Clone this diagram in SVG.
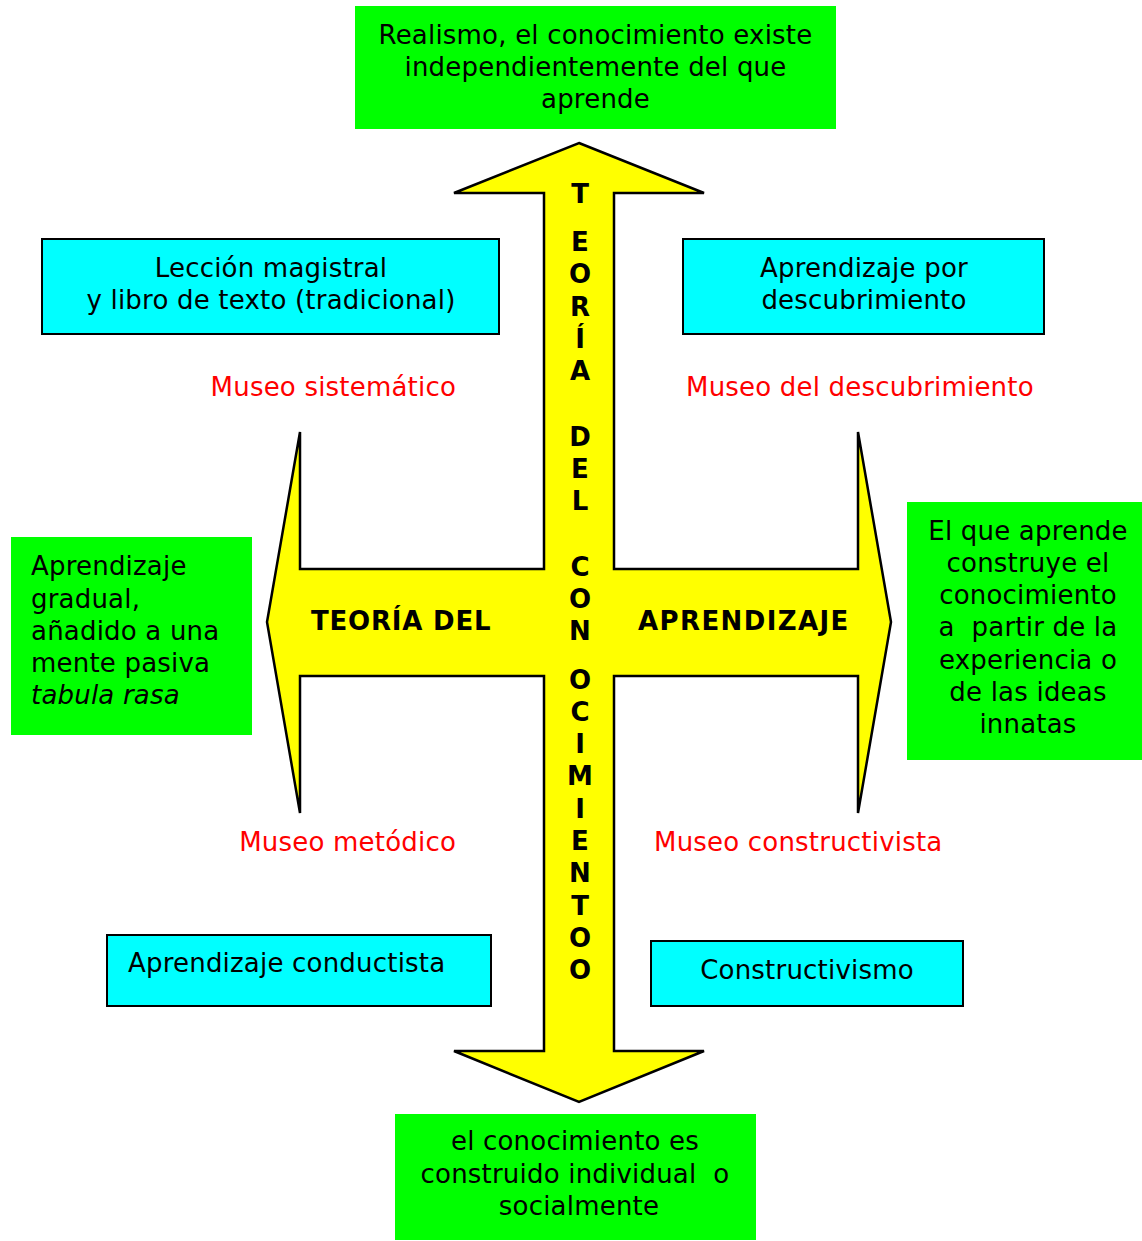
<svg xmlns="http://www.w3.org/2000/svg" width="1142" height="1241" viewBox="0 0 1142 1241">
<style>
.t{font-family:"DejaVu Sans","Verdana",sans-serif;font-size:26px;letter-spacing:0.2px;fill:#000;white-space:pre}
.c{text-anchor:middle}
.red{fill:#FF0000}
.b{font-family:"DejaVu Sans","Verdana",sans-serif;font-size:26px;font-weight:bold;fill:#000}
.v{text-anchor:middle}
.green{fill:#00FF00}
.cyan{fill:#00FFFF;stroke:#000;stroke-width:2}
</style>
<rect width="1142" height="1241" fill="#fff"/>

<g id="cross">
<polygon points="579,143 704,193 614,193 614,569 858,569 858,432 891,622 858,813 858,676 614,676 614,1051 704,1051 579,1102 454,1051 544,1051 544,676 300,676 300,813 267,622 300,432 300,569 544,569 544,193 454,193" fill="#FFFF00" stroke="#000" stroke-width="2.5" stroke-linejoin="miter"/>
<g class="b v">
<text x="580" y="203">T</text>
<text x="580" y="251">E</text>
<text x="580" y="283">O</text>
<text x="580" y="316">R</text>
<text x="580" y="348">Í</text>
<text x="580" y="380">A</text>
<text x="580" y="446">D</text>
<text x="580" y="478">E</text>
<text x="580" y="510">L</text>
<text x="580" y="576">C</text>
<text x="580" y="608">O</text>
<text x="580" y="640">N</text>
<text x="580" y="689">O</text>
<text x="580" y="721">C</text>
<text x="580" y="753">I</text>
<text x="580" y="785">M</text>
<text x="580" y="818">I</text>
<text x="580" y="850">E</text>
<text x="580" y="882">N</text>
<text x="580" y="915">T</text>
<text x="580" y="947">O</text>
<text x="580" y="979">O</text>
</g>
<text class="b" x="311" y="630" letter-spacing="0.8">TEORÍA DEL</text>
<text class="b" x="638" y="630" letter-spacing="1.4">APRENDIZAJE</text>
</g>

<g id="top">
<rect class="green" x="355" y="6" width="481" height="123"/>
<text class="t c" x="595.5" y="44">Realismo, el conocimiento existe</text>
<text class="t c" x="595.5" y="76">independientemente del que</text>
<text class="t c" x="595.5" y="108">aprende</text>
</g>

<g id="leccion">
<rect class="cyan" x="42" y="239" width="457" height="95"/>
<text class="t c" x="271" y="277">Lección magistral</text>
<text class="t c" x="271" y="309">y libro de texto (tradicional)</text>
</g>

<g id="descubrimiento">
<rect class="cyan" x="683" y="239" width="361" height="95"/>
<text class="t c" x="864" y="277">Aprendizaje por</text>
<text class="t c" x="864" y="309">descubrimiento</text>
</g>

<g id="museo-sistematico">
<text class="t red" x="456" y="396" text-anchor="end">Museo sistemático</text>
</g>
<g id="museo-descubrimiento">
<text class="t red" x="686" y="396">Museo del descubrimiento</text>
</g>

<g id="gradual">
<rect class="green" x="11" y="537" width="241" height="198"/>
<text class="t" x="31" y="575">Aprendizaje</text>
<text class="t" x="31" y="608">gradual,</text>
<text class="t" x="31" y="640">añadido a una</text>
<text class="t" x="31" y="672">mente pasiva</text>
<text class="t" x="31" y="704" font-style="italic">tabula rasa</text>
</g>

<g id="construye">
<rect class="green" x="907" y="502" width="235" height="258"/>
<text class="t c" x="1028" y="540">El que aprende</text>
<text class="t c" x="1028" y="572">construye el</text>
<text class="t c" x="1028" y="604">conocimiento</text>
<text class="t c" x="1028" y="636" xml:space="preserve">a  partir de la</text>
<text class="t c" x="1028" y="669">experiencia o</text>
<text class="t c" x="1028" y="701">de las ideas</text>
<text class="t c" x="1028" y="733">innatas</text>
</g>

<g id="museo-metodico">
<text class="t red" x="456" y="851" text-anchor="end">Museo metódico</text>
</g>
<g id="museo-constructivista">
<text class="t red" x="654" y="851">Museo constructivista</text>
</g>

<g id="conductista">
<rect class="cyan" x="107" y="935" width="384" height="71"/>
<text class="t" x="128" y="972">Aprendizaje conductista</text>
</g>

<g id="constructivismo">
<rect class="cyan" x="651" y="941" width="312" height="65"/>
<text class="t c" x="807" y="979">Constructivismo</text>
</g>

<g id="bottom">
<rect class="green" x="395" y="1114" width="361" height="126"/>
<text class="t c" x="575" y="1150">el conocimiento es</text>
<text class="t c" x="575" y="1183" xml:space="preserve">construido individual  o</text>
<text class="t c" x="579" y="1215">socialmente</text>
</g>

<g id="connectors"></g>
</svg>
